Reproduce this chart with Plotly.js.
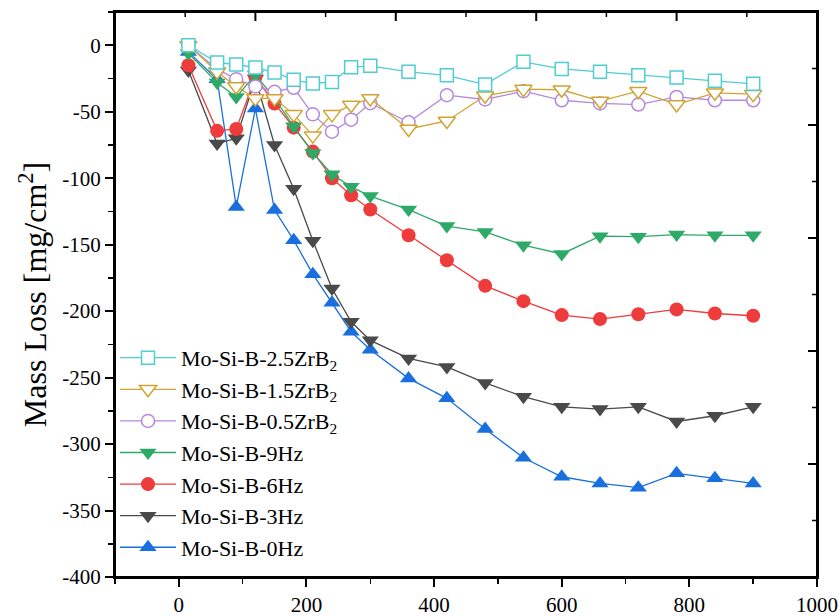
<!DOCTYPE html>
<html>
<head>
<meta charset="utf-8">
<script src="https://cdn.plot.ly/plotly-3.0.1.min.js"></script>
<style>html,body{margin:0;padding:0;background:#fff;}#chart{width:839px;height:616px;}</style>
</head>
<body>
<div id="chart"></div>
<script>
const time = [15, 60, 90, 120, 150, 180, 210, 240, 270, 300, 360, 420, 480, 540, 600, 660, 720, 780, 840, 900];

const zrb2_25 = [0, -13, -14.5, -16.8, -20.5, -26, -28.8, -27.6, -16.5, -15.5, -20, -22.6, -29.6, -12.5, -17.8, -20, -22.6, -24.3, -26.8, -29];
const zrb2_15 = [0, -20, -31, -40, -40, -52, -68, -52, -45, -40, -63, -57, -38, -33, -33.5, -42, -34.6, -44.6, -35.8, -36.8];
const zrb2_05 = [0, -18, -25.5, -31, -35, -32, -52, -65, -56, -43.6, -58, -37.6, -40.8, -34.6, -41.4, -43.8, -44.6, -38.9, -41.4, -41.4];
const hz9 = [-6, -28, -39, -22, -40, -61, -81, -97, -106.5, -113.5, -123.6, -136, -140.4, -150.4, -157, -143.6, -144, -142.4, -143, -143];
const hz6 = [-15, -64.4, -63, -24, -43.8, -62, -80, -100, -112.8, -123.6, -142.9, -161.7, -181, -192.5, -203, -206, -202.3, -198.7, -201.8, -203.5];
const hz3 = [-19, -74, -70, -25, -75, -108, -147, -183, -208, -222, -235.6, -242, -254, -264.4, -272, -273.7, -272, -283, -278.7, -272];
const hz0 = [-5, -25.6, -121.6, -47.6, -124, -146.6, -172.2, -193.7, -215.5, -229, -250.6, -265.6, -288.7, -310.3, -324.6, -329.6, -332.8, -322, -325.8, -329.6];

const yTickVals = [0, -50, -100, -150, -200, -250, -300, -350, -400];
const yTickText = ['0', '-50', '-100', '-150', '-200', '-250', '-300', '-350', '-400'];
const xTickVals = [0, 200, 400, 600, 800, 1000];
const xTickText = ['0', '200', '400', '600', '800', '1000'];
// the top and right frame axes carry their own evenly spaced inside ticks (fractions of the frame)
const frameTicks = [0.1, 0.2, 0.3, 0.4, 0.5, 0.6, 0.7, 0.8, 0.9];

const names = ['Mo-Si-B-0Hz', 'Mo-Si-B-3Hz', 'Mo-Si-B-6Hz', 'Mo-Si-B-9Hz',
  'Mo-Si-B-0.5ZrB<sub>2</sub>', 'Mo-Si-B-1.5ZrB<sub>2</sub>', 'Mo-Si-B-2.5ZrB<sub>2</sub>'];
const series = [hz0, hz3, hz6, hz9, zrb2_05, zrb2_15, zrb2_25];
const colors = ['#1a6fdf', '#4a4a4a', '#ee3b3b', '#2eaa68', '#b48ae0', '#cfa433', '#4fcdd3'];
const symbols = ['triangle-up', 'triangle-down', 'circle', 'triangle-down', 'circle-open', 'triangle-down-open', 'square-open'];
const sizes = [15, 15, 14, 15, 13, 15, 13];

const traces = series.map((ys, i) => {
  const open = symbols[i].endsWith('-open');
  return {
    x: time, y: ys, name: names[i], type: 'scatter', mode: 'lines+markers',
    line: {color: colors[i], width: 1.3},
    marker: {
      symbol: open ? symbols[i].replace('-open', '') : symbols[i],
      size: sizes[i],
      color: open ? '#ffffff' : colors[i],
      line: {color: colors[i], width: open ? 1.5 : 0}
    }
  };
});

const W = 839, H = 616, M = {l: 115, r: 22, t: 12, b: 39};
const plotW = W - M.l - M.r, plotH = H - M.t - M.b;

const shapes = [{type: 'rect', xref: 'paper', yref: 'paper', x0: 0, x1: 1, y0: 0, y1: 1,
  line: {color: '#000', width: 2}, fillcolor: 'rgba(0,0,0,0)', layer: 'above'}];
frameTicks.forEach((f, i) => {
  const isLong = i % 2 === 1;
  const len = isLong ? 9 : 5;
  const w = isLong ? 2 : 1.5;
  shapes.push({type: 'line', xref: 'paper', yref: 'paper', x0: f, x1: f, y0: 1, y1: 1 - len / plotH,
    line: {color: '#000', width: w}, layer: 'above'});
  shapes.push({type: 'line', xref: 'paper', yref: 'paper', x0: 1, x1: 1 - len / plotW, y0: f, y1: f,
    line: {color: '#000', width: w}, layer: 'above'});
});

const serif = 'Liberation Serif, Times New Roman, serif';
const axFont = {family: serif, size: 21, color: '#000'};

const layout = {
  width: W, height: H,
  margin: {l: M.l, r: M.r, t: M.t, b: M.b, pad: 0},
  paper_bgcolor: '#fff', plot_bgcolor: '#fff',
  font: axFont,
  showlegend: true,
  legend: {
    x: 0.0, y: 0.425, xanchor: 'left', yanchor: 'top',
    traceorder: 'reversed', bgcolor: 'rgba(0,0,0,0)',
    font: {family: serif, size: 22, color: '#000'},
    itemwidth: 56
  },
  shapes: shapes,
  xaxis: {
    range: [-100, 1000], tickmode: 'array', tickvals: xTickVals, ticktext: xTickText,
    showline: true, linecolor: '#000', linewidth: 2, mirror: true,
    ticks: 'outside', ticklen: 8, tickwidth: 2, tickcolor: '#000',
    minor: {dtick: 100, tick0: 0, ticks: 'outside', ticklen: 5, tickwidth: 1.5, tickcolor: '#000'},
    showgrid: false, zeroline: false, tickfont: axFont
  },
  yaxis: {
    range: [-400, 25], tickmode: 'array', tickvals: yTickVals, ticktext: yTickText,
    showline: true, linecolor: '#000', linewidth: 2, mirror: true,
    ticks: 'outside', ticklen: 8, tickwidth: 2, tickcolor: '#000',
    minor: {dtick: 25, tick0: 0, ticks: 'outside', ticklen: 5, tickwidth: 1.5, tickcolor: '#000'},
    showgrid: false, zeroline: false, tickfont: axFont,
    title: {text: 'Mass Loss [mg/cm<sup>2</sup>]', font: {family: serif, size: 32, color: '#000'}, standoff: 6}
  }
};

Plotly.newPlot('chart', traces, layout, {displayModeBar: false, staticPlot: true});
</script>
</body>
</html>
